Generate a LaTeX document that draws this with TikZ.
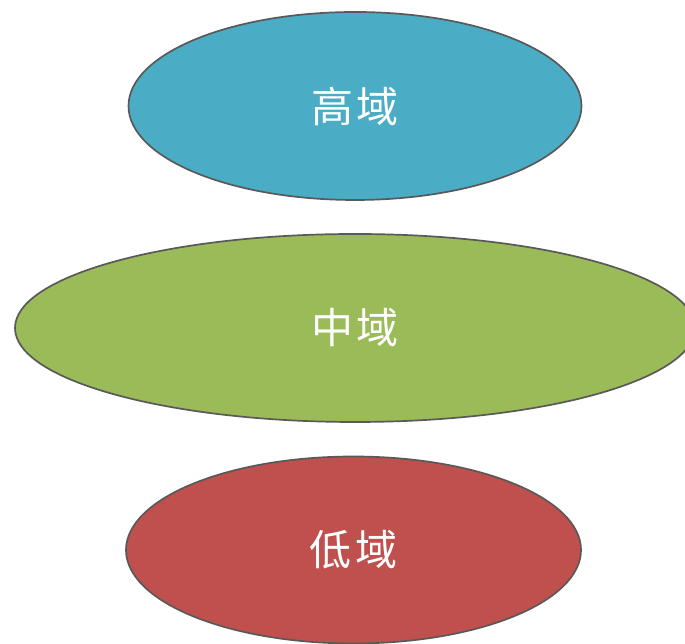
\documentclass[tikz,border=0pt]{standalone}
\usepackage{fontspec}
\newfontfamily\cjk[LetterSpace=8]{Noto Sans CJK SC}
\usetikzlibrary{shapes.geometric}
\definecolor{cblue}{HTML}{4BACC6}
\definecolor{cgreen}{HTML}{9BBB59}
\definecolor{cred}{HTML}{C0504D}
\definecolor{cedge}{HTML}{595959}
\tikzset{
  zone/.style={ellipse, draw=cedge, line width=1.7pt, inner sep=0pt},
  zonetext/.style={text=white, font=\cjk\fontsize{42}{44}\selectfont}
}
\begin{document}
\begin{tikzpicture}[x=1pt,y=1pt]
\useasboundingbox (0,0) rectangle (685,644);
\clip (0,0) rectangle (685,644);
\fill[white] (0,0) rectangle (685,644);
\node[zone, fill=cblue, minimum width=453pt, minimum height=188pt] (high) at (355,538) {};
\node[zone, fill=cgreen, minimum width=680pt, minimum height=188pt] (mid) at (355,316) {};
\node[zone, fill=cred, minimum width=455pt, minimum height=187pt] (low) at (353.5,94) {};
\node[zonetext] (thigh) at (high.center) {高域};
\node[zonetext] (tmid) at (mid.center) {中域};
\node[zonetext] (tlow) at (low.center) {低域};
\end{tikzpicture}
\end{document}
